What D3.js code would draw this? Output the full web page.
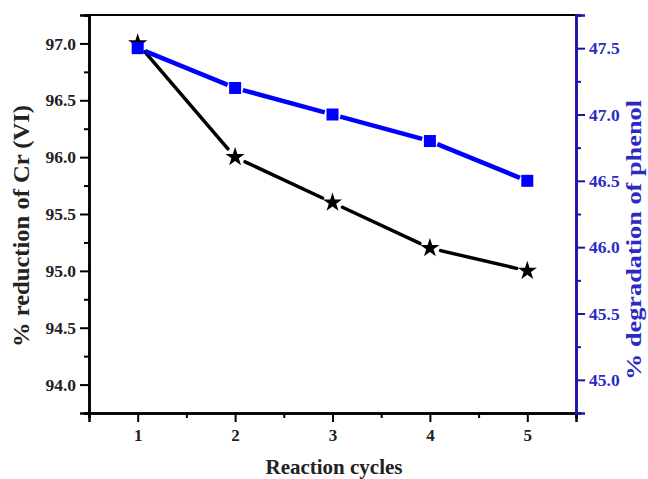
<!DOCTYPE html>
<html><head><meta charset="utf-8">
<script src="https://cdn.jsdelivr.net/npm/d3@7"></script>
<style>body{margin:0;background:#fff;} svg{display:block;} text{font-family:"Liberation Serif","Times New Roman",serif !important;}</style>
</head><body>
<svg id="c" width="648" height="479"></svg>
<script>
const cycles = [1, 2, 3, 4, 5];
const crReduction = [97.0, 96.0, 95.6, 95.2, 95.0];
const phenolDegradation = [47.5, 47.2, 47.0, 46.8, 46.5];
const leftTicks = [94.0, 94.5, 95.0, 95.5, 96.0, 96.5, 97.0];
const rightTicks = [45.0, 45.5, 46.0, 46.5, 47.0, 47.5];
const xTicks = [1, 2, 3, 4, 5];

const svg = d3.select("#c");
const L = 89, R = 576, T = 15, B = 413;
const font = "Liberation Serif";
const blueAxis = "#1c12a8", blueText = "#2b2bc4";

const x = d3.scaleLinear().domain([0.5, 5.5]).range([L, R]);
const yL = d3.scaleLinear().domain([93.75, 97.25]).range([B, T]);
const yR = d3.scaleLinear().domain([44.75, 47.75]).range([B, T]);

svg.append("line").attr("x1", L).attr("x2", R).attr("y1", T).attr("y2", T)
  .attr("stroke", "#000").attr("stroke-width", 2);

const gx = svg.append("g").attr("transform", `translate(0,${B})`);
gx.call(d3.axisBottom(x).tickValues([0.5,1.5,2.5,3.5,4.5,5.5]).tickSize(5).tickFormat(""));
const gx2 = svg.append("g").attr("transform", `translate(0,${B})`);
gx2.call(d3.axisBottom(x).tickValues(xTicks).tickSize(9).tickPadding(7).tickFormat(d3.format("d")));
[gx, gx2].forEach(g => {
  g.select(".domain").attr("stroke", "#000").attr("stroke-width", 2.5);
  g.selectAll(".tick line").attr("stroke-width", 2);
});
gx2.selectAll("text").attr("font-family", font).attr("font-weight", "bold").attr("font-size", 17).attr("fill", "#222");

const minorL = d3.range(93.75, 97.26, 0.25).filter(v => Math.abs((v * 2) % 1) > 1e-6);
const gl = svg.append("g").attr("transform", `translate(${L},0)`);
gl.call(d3.axisLeft(yL).tickValues(minorL).tickSize(5).tickFormat(""));
const gl2 = svg.append("g").attr("transform", `translate(${L},0)`);
gl2.call(d3.axisLeft(yL).tickValues(leftTicks).tickSize(9).tickPadding(4).tickFormat(d3.format(".1f")));
[gl, gl2].forEach(g => {
  g.select(".domain").attr("stroke", "#000").attr("stroke-width", 2.5);
  g.selectAll(".tick line").attr("stroke-width", 2);
});
gl2.selectAll("text").attr("font-family", font).attr("font-weight", "bold").attr("font-size", 17.5).attr("fill", "#222");

const minorR = d3.range(44.75, 47.76, 0.25).filter(v => Math.abs((v * 2) % 1) > 1e-6);
const gr = svg.append("g").attr("transform", `translate(${R},0)`);
gr.call(d3.axisRight(yR).tickValues(minorR).tickSize(5).tickFormat(""));
const gr2 = svg.append("g").attr("transform", `translate(${R},0)`);
gr2.call(d3.axisRight(yR).tickValues(rightTicks).tickSize(9).tickPadding(4).tickFormat(d3.format(".1f")));
[gr, gr2].forEach(g => {
  g.select(".domain").attr("stroke", blueAxis).attr("stroke-width", 2.5);
  g.selectAll(".tick line").attr("stroke", blueAxis).attr("stroke-width", 2);
});
gr2.selectAll("text").attr("font-family", font).attr("font-weight", "bold").attr("font-size", 17.5).attr("fill", blueText);

svg.append("text").attr("transform", `translate(29,226) rotate(-90)`)
  .attr("text-anchor", "middle").attr("font-family", font).attr("font-weight", "bold")
  .attr("font-size", 23).attr("textLength", 242).attr("lengthAdjust", "spacingAndGlyphs")
  .attr("fill", "#222").text("% reduction of Cr (VI)");
svg.append("text").attr("transform", `translate(641,240) rotate(-90)`)
  .attr("text-anchor", "middle").attr("font-family", font).attr("font-weight", "bold")
  .attr("font-size", 22).attr("textLength", 280).attr("lengthAdjust", "spacingAndGlyphs")
  .attr("fill", blueText).text("% degradation of phenol");
svg.append("text").attr("x", 334).attr("y", 474)
  .attr("text-anchor", "middle").attr("font-family", font).attr("font-weight", "bold")
  .attr("font-size", 21).attr("fill", "#222").text("Reaction cycles");

function segs(xs, ys, ysc, gap) {
  const out = [];
  for (let i = 0; i < xs.length - 1; i++) {
    const x1 = x(xs[i]), y1 = ysc(ys[i]), x2 = x(xs[i + 1]), y2 = ysc(ys[i + 1]);
    const d = Math.hypot(x2 - x1, y2 - y1), ux = (x2 - x1) / d, uy = (y2 - y1) / d;
    out.push([x1 + ux * gap, y1 + uy * gap, x2 - ux * gap, y2 - uy * gap]);
  }
  return out;
}

svg.append("g").selectAll("line").data(segs(cycles, crReduction, yL, 11)).join("line")
  .attr("x1", d => d[0]).attr("y1", d => d[1]).attr("x2", d => d[2]).attr("y2", d => d[3])
  .attr("stroke", "#000").attr("stroke-width", 3.5).attr("stroke-linecap", "round");
svg.append("g").selectAll("line").data(segs(cycles, phenolDegradation, yR, 8)).join("line")
  .attr("x1", d => d[0]).attr("y1", d => d[1]).attr("x2", d => d[2]).attr("y2", d => d[3])
  .attr("stroke", "#0000ff").attr("stroke-width", 4.5);

const star = d3.symbol().type(d3.symbolStar).size(115);
svg.append("g").selectAll("path").data(cycles).join("path")
  .attr("d", star).attr("transform", (d, i) => `translate(${x(d)},${yL(crReduction[i])})`)
  .attr("fill", "#000");
svg.append("g").selectAll("rect").data(cycles).join("rect")
  .attr("x", d => x(d) - 6).attr("y", (d, i) => yR(phenolDegradation[i]) - 6)
  .attr("width", 12).attr("height", 12).attr("fill", "#0000ff");
</script>
</body></html>
